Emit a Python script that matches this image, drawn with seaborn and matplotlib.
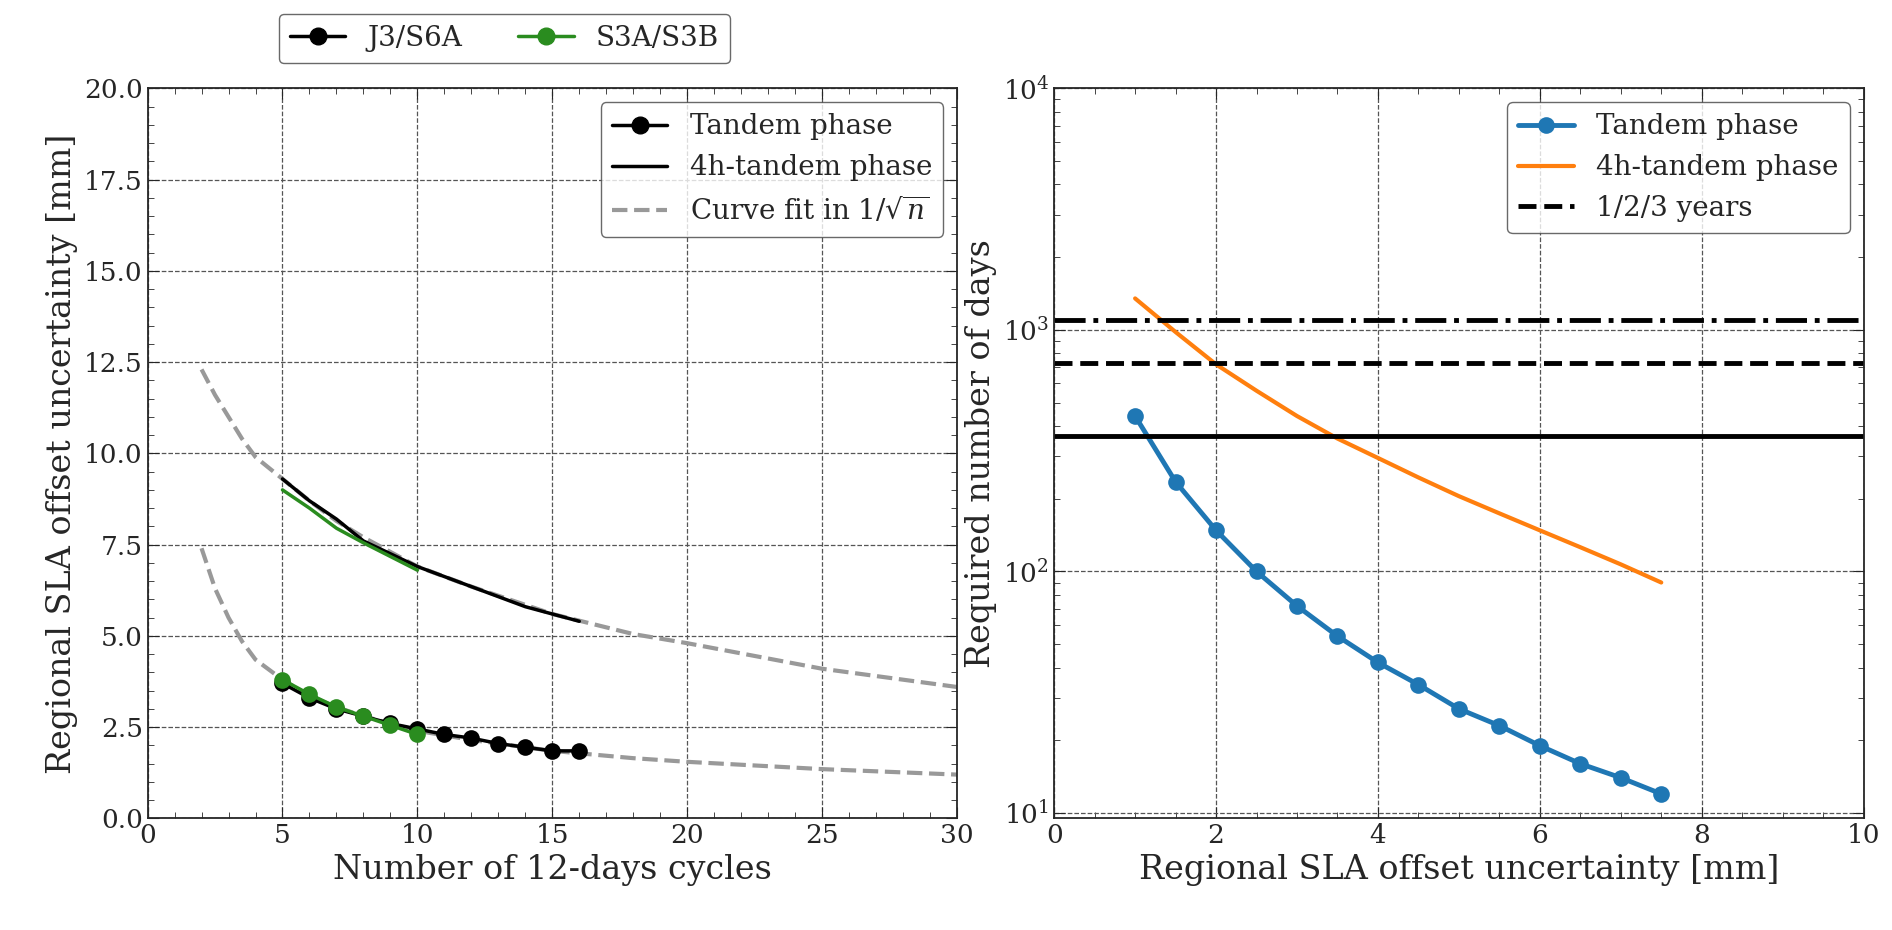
import numpy as np
import matplotlib
matplotlib.use("Agg")
import matplotlib.pyplot as plt
import seaborn as sns
from matplotlib.lines import Line2D

sns.set_style("ticks")
plt.rcParams["font.family"] = ["DejaVu Serif"]
plt.rcParams["mathtext.fontset"] = "dejavuserif"
plt.rcParams["font.size"] = 18

# left panel data
n_j3 = [5, 6, 7, 8, 9, 10, 11, 12, 13, 14, 15, 16]
tandem_j3 = [3.7, 3.3, 3.0, 2.8, 2.6, 2.45, 2.3, 2.2, 2.05, 1.95, 1.85, 1.85]
n_s3 = [5, 6, 7, 8, 9, 10]
tandem_s3 = [3.8, 3.4, 3.05, 2.8, 2.55, 2.3]
n_4h_j3 = [5, 6, 7, 8, 10, 12, 14, 16]
h4_j3 = [9.3, 8.7, 8.2, 7.6, 6.9, 6.35, 5.8, 5.4]
n_4h_s3 = [5, 6, 7, 8, 10]
h4_s3 = [9.0, 8.5, 7.95, 7.55, 6.8]
n_fit = [2, 2.5, 3, 3.5, 4, 5, 6, 7, 8, 10, 12, 15, 18, 20, 25, 30]
fit_low = [7.4, 6.3, 5.5, 4.85, 4.35, 3.8, 3.35, 3.05, 2.8, 2.4, 2.15, 1.85, 1.65, 1.55, 1.35, 1.2]
fit_high = [12.3, 11.6, 11.0, 10.4, 9.9, 9.3, 8.7, 8.15, 7.7, 6.9, 6.35, 5.6, 5.05, 4.8, 4.1, 3.6]

# right panel data
unc_tandem = [1.0, 1.5, 2.0, 2.5, 3.0, 3.5, 4.0, 4.5, 5.0, 5.5, 6.0, 6.5, 7.0, 7.5]
days_tandem = [440, 235, 148, 100, 72, 54, 42, 34, 27, 23, 19, 16, 14, 12]
unc_4h = [1.0, 1.5, 2.0, 2.5, 3.0, 3.5, 4.0, 4.5, 5.0, 5.5, 6.0, 6.5, 7.0, 7.5]
days_4h = [1350, 980, 720, 560, 440, 355, 295, 245, 205, 174, 148, 126, 107, 90]
years_days = [365, 730, 1095]
years_styles = ["-", "--", "-."]

fig, (ax1, ax2) = plt.subplots(1, 2, figsize=(18.92, 9.3), dpi=100)
fig.subplots_adjust(left=0.078, right=0.985, bottom=0.12, top=0.905, wspace=0.12)

grey = "#999999"
green = "#2a8c1f"
sns.lineplot(x=n_fit, y=fit_low, ax=ax1, color=grey, lw=3, linestyle="--")
sns.lineplot(x=n_fit, y=fit_high, ax=ax1, color=grey, lw=3, linestyle="--")
sns.lineplot(x=n_4h_j3, y=h4_j3, ax=ax1, color="black", lw=2.5)
sns.lineplot(x=n_4h_s3, y=h4_s3, ax=ax1, color=green, lw=2.5)
sns.lineplot(x=n_j3, y=tandem_j3, ax=ax1, color="black", lw=2.5, marker="o", markersize=12, markeredgewidth=0)
sns.lineplot(x=n_s3, y=tandem_s3, ax=ax1, color=green, lw=2.5, marker="o", markersize=12, markeredgewidth=0)
ax1.set_xlim(0, 30)
ax1.set_ylim(0, 20)
ax1.set_xlabel("Number of 12-days cycles", fontsize=24)
ax1.set_ylabel("Regional SLA offset uncertainty [mm]", fontsize=24)
h1 = [Line2D([], [], color="black", lw=2.5, marker="o", markersize=12),
      Line2D([], [], color="black", lw=2.5),
      Line2D([], [], color=grey, lw=3, linestyle="--")]
ax1.legend(h1, ["Tandem phase", "4h-tandem phase", r"Curve fit in $1/\sqrt{n}$"],
           loc="upper right", fontsize=20, edgecolor="#444444", fancybox=True)

sns.lineplot(x=unc_tandem, y=days_tandem, ax=ax2, color="#1f77b4", lw=3.5,
             marker="o", markersize=12, markeredgewidth=0, label="Tandem phase")
sns.lineplot(x=unc_4h, y=days_4h, ax=ax2, color="#ff7f0e", lw=3, label="4h-tandem phase")
for d, ls in zip(years_days, years_styles):
    ax2.axhline(d, color="black", lw=3.5, linestyle=ls)
ax2.set_yscale("log")
ax2.set_xlim(0, 10)
ax2.set_ylim(9.5, 1e4)
ax2.set_xlabel("Regional SLA offset uncertainty [mm]", fontsize=24)
ax2.set_ylabel("Required number of days", fontsize=24)
h2, l2 = ax2.get_legend_handles_labels()
h2.append(Line2D([], [], color="black", lw=3.5, linestyle="--"))
l2.append("1/2/3 years")
ax2.legend(h2, l2, loc="upper right", fontsize=20, edgecolor="#444444", fancybox=True)

for ax in (ax1, ax2):
    ax.grid(True, color="#555555", linestyle="--", lw=0.9)
    ax.minorticks_on()
    ax.tick_params(which="both", direction="in", top=True, right=True, labelsize=19)
    ax.tick_params(which="major", length=8)
    ax.tick_params(which="minor", length=4)
    for s in ax.spines.values():
        s.set_linewidth(1.3)

fig.legend([Line2D([], [], color="black", lw=2.5, marker="o", markersize=12),
            Line2D([], [], color=green, lw=2.5, marker="o", markersize=12)],
           ["J3/S6A", "S3A/S3B"], loc="upper left", bbox_to_anchor=(0.14, 1.0),
           ncol=2, fontsize=20, edgecolor="#444444")

fig.savefig("out.png", dpi=100)
